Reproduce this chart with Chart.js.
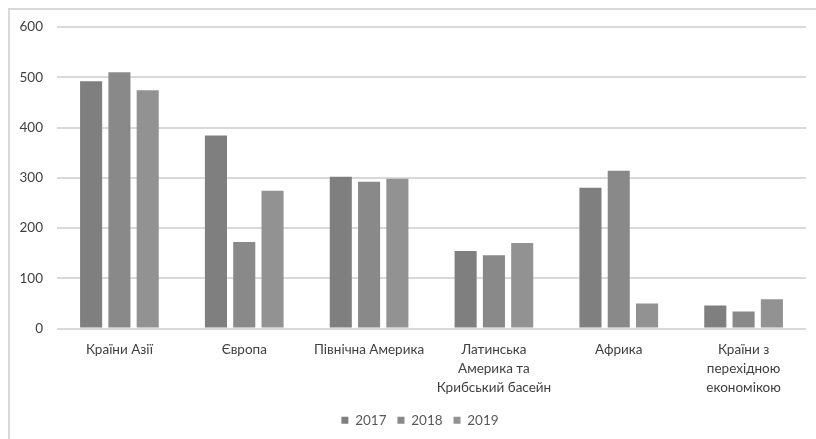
<!DOCTYPE html>
<html>
<head>
<meta charset="utf-8">
<script src="https://cdn.jsdelivr.net/npm/chart.js@4"></script>
<style>
  html, body { margin: 0; padding: 0; background: #fff; }
  #wrap { position: relative; width: 816px; height: 439px; overflow: hidden; }
  #frame { position: absolute; left: 8px; top: 8px; width: 900px; height: 600px;
           border-top: 2px solid #d9d9d9; border-left: 2px solid #d9d9d9; box-sizing: border-box; }
  canvas { position: absolute; left: 0; top: 0; }
</style>
</head>
<body>
<div id="wrap">
  <div id="frame"></div>
  <canvas id="c" width="816" height="439"></canvas>
</div>
<script>
const categories = [
  "Країни Азії",
  "Європа",
  "Північна Америка",
  ["Латинська", "Америка та", "Крибський басейн"],
  "Африка",
  ["Країни з", "перехідною", "економікою"]
];
const seriesNames = ["2017", "2018", "2019"];
const values2017 = [492, 384, 302, 154, 280, 46];
const values2018 = [510, 172, 292, 146, 314, 34];
const values2019 = [474, 274, 298, 170, 50, 58];
const yTicks = [0, 100, 200, 300, 400, 500, 600];

const colors = ["#7f7f7f", "#898989", "#929292"];
const fontFamily = "Lato, 'Liberation Sans', sans-serif";

const legendShift = {
  id: "legendShift",
  beforeDraw(chart) {
    const lg = chart.legend;
    if (!lg || lg._shifted) return;
    const dx = 12;
    lg.left += dx; lg.right += dx;
    (lg.legendHitBoxes || []).forEach(h => { h.left += dx; });
    lg._shifted = true;
  }
};

new Chart(document.getElementById("c"), {
  type: "bar",
  data: {
    labels: categories,
    datasets: [values2017, values2018, values2019].map((v, i) => ({
      label: seriesNames[i],
      data: v,
      backgroundColor: colors[i],
      borderWidth: 0,
      categoryPercentage: 0.68,
      barPercentage: 0.78
    }))
  },
  plugins: [legendShift],
  options: {
    responsive: false,
    animation: false,
    devicePixelRatio: 1,
    layout: { padding: { left: 10, right: 10, top: 27, bottom: 2 } },
    plugins: {
      tooltip: { enabled: false },
      legend: {
        position: "bottom",
        labels: {
          boxWidth: 7, boxHeight: 7, padding: 11,
          color: "#595959",
          font: { family: fontFamily, size: 13.5 }
        }
      }
    },
    scales: {
      x: {
        grid: { display: false, drawTicks: false },
        border: { display: false },
        ticks: {
          color: "#404040",
          font: { family: fontFamily, size: 13.5, lineHeight: 1.4 },
          maxRotation: 0, minRotation: 0, autoSkip: false, padding: 12
        },
        afterFit: (s) => { s.height = 74; }
      },
      y: {
        min: 0, max: 600,
        afterBuildTicks: (s) => { s.ticks = yTicks.map(v => ({ value: v })); },
        grid: { color: "#d9d9d9", lineWidth: 2, drawTicks: false },
        border: { display: false },
        ticks: {
          color: "#404040",
          font: { family: fontFamily, size: 13.5 },
          padding: 14
        },
        afterFit: (s) => { s.width = 47; }
      }
    }
  }
});
</script>
</body>
</html>
